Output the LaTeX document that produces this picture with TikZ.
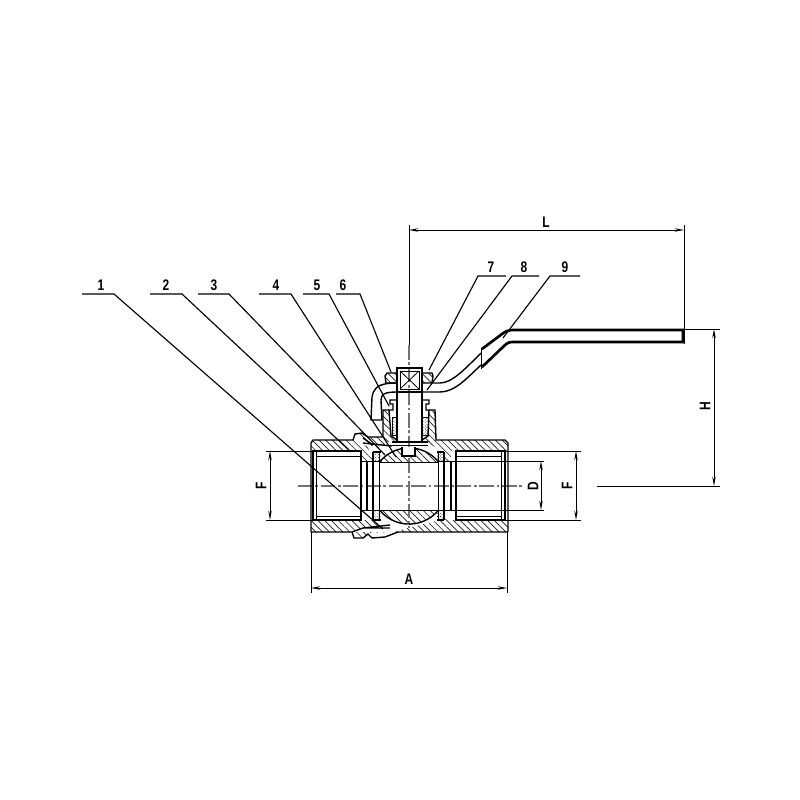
\documentclass[tikz,border=0pt]{standalone}
\usepackage{fontspec}
\setmainfont[FakeStretch=0.78]{Liberation Sans}
\usetikzlibrary{arrows.meta,patterns.meta}
\tikzset{every picture/.style={line width=0.75pt}}
\tikzset{
  part/.style={line width=1.05pt,line join=miter},
  thinpart/.style={line width=0.6pt},
  hatched/.style={pattern={Lines[angle=-45,distance=3.6pt,line width=0.5pt]},pattern color=black!90},
  dotted fill/.style={pattern={Dots[angle=45,distance=1.6pt,radius=0.38pt]},pattern color=black},
  leader/.style={line width=0.85pt},
  dimline/.style={line width=0.7pt},
  dimarrow/.style={line width=0.7pt,{Stealth[length=7pt,width=2.6pt]}-{Stealth[length=7pt,width=2.6pt]}},
  axisline/.style={line width=0.8pt,black!55,dash pattern=on 11pt off 2pt on 2pt off 2pt},
  lbl/.style={inner sep=0.75pt,font=\fontsize{11.5}{11.5}\selectfont\bfseries},
}
\begin{document}
\begin{tikzpicture}[x=0.75pt,y=0.75pt,yscale=-1,xscale=1]
\useasboundingbox (0,0) rectangle (800,800);

%Hatching of body
\path [hatched] (311,440) -- (353,440) -- (368,447) -- (373,461) -- (361,461) -- (361,451) -- (311,451) -- cycle ;
\path [hatched] (436,440) -- (508,440) -- (508,451) -- (451,451) -- (451,461) -- (444,461) -- (444,452) -- (426,442) -- cycle ;
\path [hatched] (311,520) -- (361,520) -- (372,520) -- (380,527) -- (364,527) -- (352,532) -- (311,532) -- cycle ;
\path [hatched] (392,532) -- (420,525) -- (444,519) -- (451,519) -- (451,520) -- (508,520) -- (508,532) -- cycle ;
\path [hatched] (356,435) -- (362,433) -- (368,437) -- (383,437) -- (392,446) -- (370,446) -- cycle ;
\path [hatched] (356,538) -- (363,538) -- (368,533) -- (392,532) -- (352,532) -- cycle ;
%Hatching of neck
\path [hatched] (383,410) -- (389,410) -- (391,436) -- (397,442) -- (383,442) -- cycle ;
\path [hatched] (429,410) -- (435,410) -- (436,442) -- (422,442) -- (428,436) -- cycle ;
%Hatching of nut
\path [hatched] (385,373) -- (397,373) -- (397,383) -- (386,383) -- cycle ;
\path [hatched] (422,373) -- (433,373) -- (432,383) -- (422,383) -- cycle ;
%Hatching of ball
\path [hatched] (379.5,462) arc [start angle=-141,end angle=-39,radius=38] -- cycle ;
\path [hatched] (379.5,510) arc [start angle=141,end angle=39,radius=38] -- cycle ;
%Packing and seats
\path [dotted fill] (392,417) rectangle (397,435) ;
\path [dotted fill] (422,417) rectangle (428,435) ;
\path [dotted fill] (374,453) -- (381,453) -- (381,461) -- (374,461) -- cycle ;
\path [dotted fill] (437,453) -- (444,453) -- (444,461) -- (437,461) -- cycle ;
\path [dotted fill] (374,511) -- (381,511) -- (381,519) -- (374,519) -- cycle ;
\path [dotted fill] (437,511) -- (444,511) -- (444,519) -- (437,519) -- cycle ;

%Centre lines
\draw [axisline] (298,486) -- (522,486) ;
\draw [axisline] (409,345) -- (409,528) ;

%Body outline
\draw [part] (311,532) -- (311,443) -- (313,440) -- (353,440) -- (355,434) -- (362,433) -- (368,437) -- (383,437) -- (383,410) -- (389,410) ;
\draw [part] (429,410) -- (435,410) -- (436,440) -- (505,440) -- (508,443) -- (508,532) ;
\draw [part] (311,532) -- (352,532) -- (354,538) -- (363,538) -- (368,534) -- (372,538) -- (385,537) -- (398,532) -- (508,532) ;
%Left bore
\draw [part] (313,451) -- (361,451) -- (361,520) -- (313,520) -- cycle ;
\draw [thinpart] (316,451) -- (316,520) ;
\draw [thinpart] (316,456) -- (361,456) (316,516) -- (361,516) ;
\draw [part] (367,461) -- (367,510) ;
\draw [part] (373,452) -- (373,520) ;
\draw [part] (379.5,453) -- (379.5,519) ;
%Right bore
\draw [part] (451,461) -- (451,510) ;
\draw [part] (456,451) -- (505,451) -- (505,520) -- (456,520) -- cycle ;
\draw [thinpart] (501,451) -- (501,520) ;
\draw [thinpart] (456,456) -- (501,456) (456,516) -- (501,516) ;
\draw [part] (438.5,453) -- (438.5,519) ;
\draw [part] (444,452) -- (444,520) ;
\draw [part] (373,452) -- (381,452) (437,452) -- (444,452) (373,520) -- (381,520) (437,520) -- (444,520) ;
\draw [thinpart] (361,461) -- (380,461) (361,510) -- (380,510) (438,461) -- (451,461) (438,510) -- (451,510) ;
%Ball
\draw [part] (379.5,462) arc [start angle=-141,end angle=-39,radius=38] ;
\draw [part] (379.5,510) arc [start angle=141,end angle=39,radius=38] ;
\draw [thinpart] (379.5,462) -- (438.5,462) (379.5,510) -- (438.5,510) ;
%Slot of ball
\draw [part,fill=white] (402,447) -- (402,456) -- (415,456) -- (415,447) ;
%Left end piece
\draw [part] (363,528) -- (390,525) (363,528) -- (352,532) (390,528) -- (363,528) ;
\draw [part] (363,443) -- (392,446) ;
\draw [part] (363,438) -- (373,445) ;
%Stem
\draw [part] (397,392) -- (397,442) (422,392) -- (422,442) ;
\draw [part] (392,442) -- (428,442) ;
\draw [thinpart] (392,445.5) -- (428,445.5) ;
\draw [part] (397,400) -- (390,400) -- (390,404) -- (393,404) -- (393,410) -- (389,410) -- (391,436) -- (397,440) ;
\draw [part] (422,400) -- (429,400) -- (429,404) -- (426,404) -- (426,410) -- (429,410) -- (428,436) -- (422,440) ;
\draw [thinpart] (392,417) rectangle (397,435) (422,417) rectangle (428,435) ;
%Square head and nut
\draw [part] (397,368) rectangle (422,392) ;
\draw [thinpart] (400,371) rectangle (419,389) ;
\draw [thinpart] (400,371) -- (419,389) (419,371) -- (400,389) ;
\draw [part] (397,373) -- (387,373) -- (385,376) -- (386,383) -- (397,383) ;
\draw [part] (422,373) -- (432,373) -- (433,376) -- (432,383) -- (422,383) ;
%Lever
\draw [part] (397,383) .. controls (383,383) and (374,385) .. (372,397) -- (371,420) -- (382,420) -- (381,400) .. controls (381,394) and (385,392) .. (397,392) ;
\draw [part] (432,383) -- (440,383) .. controls (452,383) and (465,369) .. (481,353) ;
\draw [part] (422,392) -- (440,392) .. controls (455,392) and (467,378) .. (481,365) ;
\draw [thinpart] (481,348) -- (481,369) ;
\draw [line width=2pt] (482,349) -- (502,334) .. controls (506,331) and (509,330) .. (513,330) -- (683,330) -- (683,342) -- (513,342) .. controls (509,342) and (507,343) .. (504,346) -- (482,367) ;

%Leaders
\node [lbl] (n1) at (101,285) {1};
\node [lbl] (n2) at (166,285) {2};
\node [lbl] (n3) at (214,285) {3};
\node [lbl] (n4) at (276,285) {4};
\node [lbl] (n5) at (317,285) {5};
\node [lbl] (n6) at (343,285) {6};
\node [lbl] (n7) at (491,267) {7};
\node [lbl] (n8) at (524,267) {8};
\node [lbl] (n9) at (565,267) {9};
\coordinate (p1) at (383,529) ;
\coordinate (p2) at (351,452) ;
\coordinate (p3) at (385,455) ;
\coordinate (p4) at (396,457) ;
\coordinate (p5) at (389,406) ;
\coordinate (p6) at (391,372) ;
\coordinate (p7) at (429,370) ;
\coordinate (p8) at (427,390) ;
\coordinate (p9) at (503,338) ;
\draw [leader] (82,294) -- (114,294) -- (p1) ;
\draw [leader] (150,294) -- (182,294) -- (p2) ;
\draw [leader] (198,294) -- (229,294) -- (p3) ;
\draw [leader] (259,294) -- (291,294) -- (p4) ;
\draw [leader] (303,294) -- (329,294) -- (p5) ;
\draw [leader] (336,294) -- (360,294) -- (p6) ;
\draw [leader] (506,276) -- (478,276) -- (p7) ;
\draw [leader] (539,276) -- (512,276) -- (p8) ;
\draw [leader] (580,276) -- (550,276) -- (p9) ;

%Dimension lines
\draw [dimline] (409,225) -- (409,345) ;
\draw [dimline] (684,225) -- (684,344) ;
\draw [dimline] (684,329) -- (720,329) ;
\draw [dimline] (597,486) -- (720,486) ;
\draw [dimline] (311,532) -- (311,593) ;
\draw [dimline] (507,532) -- (507,593) ;
\draw [dimline] (266,451) -- (313,451) (266,520) -- (313,520) ;
\draw [dimline] (505,451) -- (581,451) (505,520) -- (581,520) ;
\draw [dimline] (444,461) -- (544,461) (444,510) -- (544,510) ;
\coordinate (La) at (409,230) ;
\coordinate (Lb) at (684,230) ;
\coordinate (Ha) at (714,329) ;
\coordinate (Hb) at (714,486) ;
\coordinate (Aa) at (311,588) ;
\coordinate (Ab) at (507,588) ;
\coordinate (Fa) at (270,451) ;
\coordinate (Fb) at (270,520) ;
\coordinate (Da) at (541,461) ;
\coordinate (Db) at (541,510) ;
\coordinate (Ga) at (576,451) ;
\coordinate (Gb) at (576,520) ;
\draw [dimarrow] (La) -- (Lb) ;
\draw [dimarrow] (Ha) -- (Hb) ;
\draw [dimarrow] (Aa) -- (Ab) ;
\draw [dimarrow] (Fa) -- (Fb) ;
\draw [dimarrow] (Da) -- (Db) ;
\draw [dimarrow] (Ga) -- (Gb) ;

\node [lbl] (labL) at (546,222) {L};
\node [lbl] (labA) at (409,579) {A};
\node [lbl,rotate=90] (labH) at (705,406) {H};
\node [lbl,rotate=90] (labF) at (261,486) {F};
\node [lbl,rotate=90] (labD) at (533,486) {D};
\node [lbl,rotate=90] (labG) at (567,486) {F};

\end{tikzpicture}
\end{document}
